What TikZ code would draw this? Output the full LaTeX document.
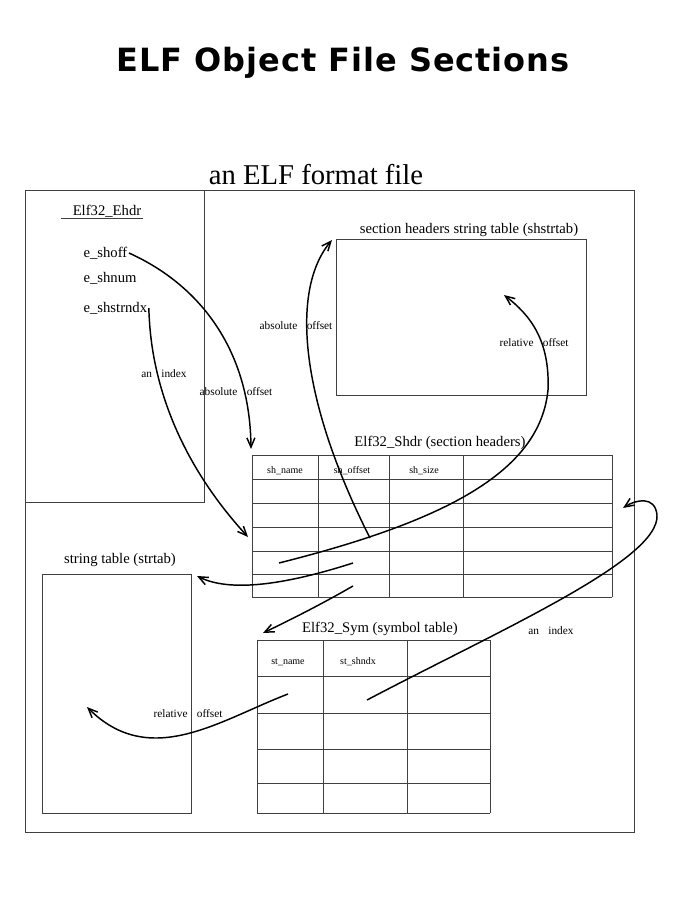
\documentclass[tikz,border=0pt]{standalone}
\usepackage{fontspec}
\setmainfont{Liberation Serif}
\newfontfamily\headfont[LetterSpace=3]{DejaVu Sans}
\usetikzlibrary{arrows.meta, positioning}
\tikzset{>={Straight Barb[length=7pt,width=6pt]}}

\newcommand{\gap}{\hspace{7pt}}

\begin{document}
\begin{tikzpicture}[x=0.75pt,y=-0.75pt,
    box/.style={draw=black!75, line width=0.7pt},
    link/.style={->, line width=1.1pt},
    field/.style={inner sep=1pt, font=\fontsize{11}{13}\selectfont},
    note/.style={inner sep=1pt, font=\fontsize{8.5}{10}\selectfont},
    cellname/.style={inner sep=1pt, font=\fontsize{7.5}{9}\selectfont}]
\useasboundingbox (0,0) rectangle (686,898);

% headings
\node[font=\headfont\bfseries\fontsize{24}{28}\selectfont] (title) at (343,63) {ELF Object File Sections};
\node[font=\fontsize{21.5}{25}\selectfont] (elffile) at (316,175) {an ELF format file};

% boxes
\draw[box] (25,190) rectangle (634,832);
\draw[box] (25,190) rectangle (204,502);
\draw[box] (336,239) rectangle (586,395);
\draw[box] (42,574) rectangle (191,813);

% Elf32_Shdr table
\foreach \y in {455,479,503,527,551,574,597}
    \draw[box] (252,\y) -- (612,\y);
\foreach \x in {252,318,389,463,612}
    \draw[box] (\x,455) -- (\x,597);

% Elf32_Sym table
\foreach \y in {640,676,713,749,783,813}
    \draw[box] (257,\y) -- (490,\y);
\foreach \x in {257,323,407,490}
    \draw[box] (\x,640) -- (\x,813);

% ELF header fields
\node[field] (ehdr) at (107,211) {Elf32\_Ehdr};
\draw[box] ([xshift=-7.5pt]ehdr.south west) -- (ehdr.south east);
\node[field, anchor=west] (shoff) at (82,253) {e\_shoff};
\node[field, anchor=west] (shnum) at (82,278) {e\_shnum};
\node[field, anchor=west] (shstrndx) at (82,308) {e\_shstrndx};

% section labels
\node[field] (shstrtab) at (469,230) {section headers string table (shstrtab)};
\node[field] (shdr) at (440,443) {Elf32\_Shdr (section headers)};
\node[field] (strtab) at (120,560) {string table (strtab)};
\node[field] (sym) at (380,629) {Elf32\_Sym (symbol table)};

% column names
\node[cellname] (shname) at (285,471) {sh\_name};
\node[cellname] (shoffset) at (352,471) {sh\_offset};
\node[cellname] (shsize) at (424,471) {sh\_size};
\node[cellname] (stname) at (288,662) {st\_name};
\node[cellname] (stshndx) at (358,662) {st\_shndx};

% arrow labels
\node[note] (abs1) at (236,392) {absolute\gap offset};
\node[note] (idx1) at (164,374) {an\gap index};
\node[note] (abs2) at (296,326) {absolute\gap offset};
\node[note] (rel1) at (534,343) {relative\gap offset};
\node[note] (rel2) at (188,714) {relative\gap offset};
\node[note] (idx2) at (551,631) {an\gap index};

% connector ends
\coordinate (shdr-top) at (251,449);
\coordinate (shdr-row) at (248,537);
\coordinate (offset-cell) at (370,538);
\coordinate (shstr-corner) at (332,240);
\coordinate (name-cell) at (279,563);
\coordinate (shstr-bend) at (548,390);
\coordinate (shstr-in) at (504,295);
\coordinate (link-cell) at (353,563);
\coordinate (strtab-corner) at (197,576);
\coordinate (info-cell) at (353,586);
\coordinate (sym-corner) at (263,633);
\coordinate (shndx-cell) at (367,700);
\coordinate (shdr-bend) at (657,515);
\coordinate (shdr-side) at (623,508);
\coordinate (stname-cell) at (288,694);
\coordinate (strtab-in) at (87,707);

% connectors
\draw[link] (shoff.east) .. controls (200,285) and (250,350) .. (shdr-top);
\draw[link] (shstrndx.east) .. controls (150,330) and (150,430) .. (shdr-row);
\draw[link] (offset-cell) .. controls (300,400) and (290,290) .. (shstr-corner);
\draw[link] (name-cell) .. controls (450,520) and (540,470) .. (shstr-bend)
    .. controls (550,340) and (530,315) .. (shstr-in);
\draw[link] (link-cell) .. controls (300,580) and (235,595) .. (strtab-corner);
\draw[link] (info-cell) .. controls (320,605) and (290,620) .. (sym-corner);
\draw[link] (shndx-cell) .. controls (500,630) and (660,560) .. (shdr-bend)
    .. controls (655,495) and (635,500) .. (shdr-side);
\draw[link] (stname-cell) .. controls (220,720) and (150,770) .. (strtab-in);
\end{tikzpicture}
\end{document}
